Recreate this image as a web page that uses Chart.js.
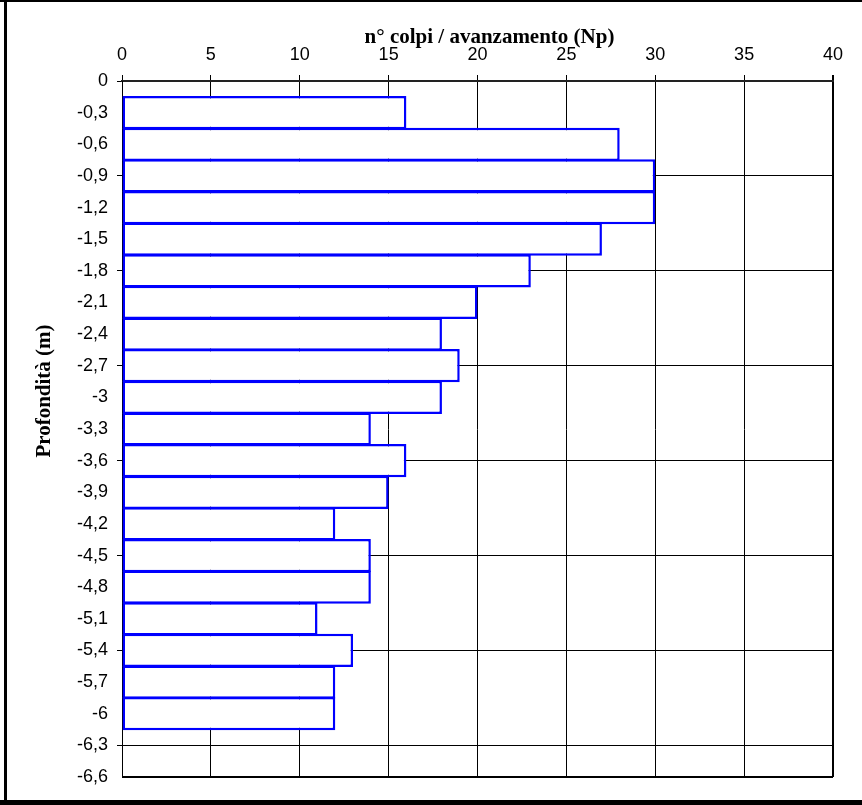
<!DOCTYPE html>
<html><head><meta charset="utf-8">
<script src="https://cdn.jsdelivr.net/npm/chart.js@4.4.0/dist/chart.umd.min.js"></script>
<style>html,body{margin:0;padding:0;background:#fff;}</style>
</head><body>
<canvas id="c" width="862" height="805" style="display:block;width:862px;height:805px"></canvas>
<script>
// ---- data ----
const depths = [-0.3,-0.6,-0.9,-1.2,-1.5,-1.8,-2.1,-2.4,-2.7,-3.0,-3.3,-3.6,-3.9,-4.2,-4.5,-4.8,-5.1,-5.4,-5.7,-6.0];
const blows  = [16,28,30,30,27,23,20,18,19,18,14,16,15,12,14,14,11,13,12,12];
const xMin = 0, xMax = 40, xStep = 5;
const yMin = -6.6, yMax = 0, yStep = 0.3;
const xTitle = 'n° colpi / avanzamento (Np)';
const yTitle = 'Profondità (m)';

function isMajor(v){ return Math.abs(Math.round(v*10)) % 9 === 0; }
function fmt(v){ return String(Math.round(v*10)/10).replace('.', ','); }

const framePlugin = {
  id: 'frame',
  beforeDraw(chart){
    const c = chart.ctx;
    c.save(); c.fillStyle = '#fff'; c.fillRect(0,0,chart.width,chart.height); c.restore();
  },
  afterDraw(chart){
    const c = chart.ctx, a = chart.chartArea;
    c.save();
    c.fillStyle = '#000';
    c.fillRect(0,0,chart.width,2);
    c.fillRect(4,0,3,chart.height);
    c.fillRect(0,800,chart.width,5);
    c.font = 'bold 21px "Liberation Serif"';
    c.textAlign = 'center';
    c.textBaseline = 'alphabetic';
    c.fillText(xTitle, (a.left + a.right)/2 + 12, 43);
    c.translate(50, (a.top + a.bottom)/2 - 38);
    c.rotate(-Math.PI/2);
    c.fillText(yTitle, 0, 0);
    c.restore();
  }
};

new Chart(document.getElementById('c'), {
  type: 'bar',
  data: {
    datasets: [{
      data: depths.map((d,i) => ({x: blows[i], y: d})),
      backgroundColor: '#ffffff',
      borderColor: '#0000ff',
      borderWidth: 2.5,
      borderSkipped: false,
      barPercentage: 1.05,
      categoryPercentage: 1
    }]
  },
  options: {
    indexAxis: 'y',
    responsive: false,
    animation: false,
    devicePixelRatio: 1,
    layout: { padding: { left: 0, top: 0, right: 29, bottom: 28 } },
    plugins: { legend: { display: false }, tooltip: { enabled: false } },
    scales: {
      x: {
        type: 'linear', position: 'top', min: xMin, max: xMax,
        ticks: { stepSize: xStep, color: '#000', padding: 9, font: { family: '"Liberation Sans", Arial', size: 18 } },
        grid: { color: '#000', lineWidth: ctx => (ctx.tick && ctx.tick.value === xMax) ? 2 : 1, tickLength: 6 },
        border: { color: '#222', width: 2 },
        afterFit: s => { s.height = 81; }
      },
      y: {
        type: 'linear', min: yMin, max: yMax, offset: false,
        ticks: { stepSize: yStep, autoSkip: false, color: '#000', padding: 9,
                 font: { family: '"Liberation Sans", Arial', size: 18 },
                 callback: v => fmt(v) },
        grid: {
          offset: false,
          color: ctx => (ctx.tick && (isMajor(ctx.tick.value) || ctx.index === 0)) ? '#000' : 'rgba(0,0,0,0)',
          tickColor: ctx => (ctx.tick && isMajor(ctx.tick.value)) ? '#000' : 'rgba(0,0,0,0)',
          lineWidth: ctx => (ctx.index === 0) ? 2 : 1,
          tickLength: 5
        },
        border: { color: '#000', width: 1 },
        afterFit: s => { s.width = 122; }
      }
    }
  },
  plugins: [framePlugin]
});
</script>
</body></html>
